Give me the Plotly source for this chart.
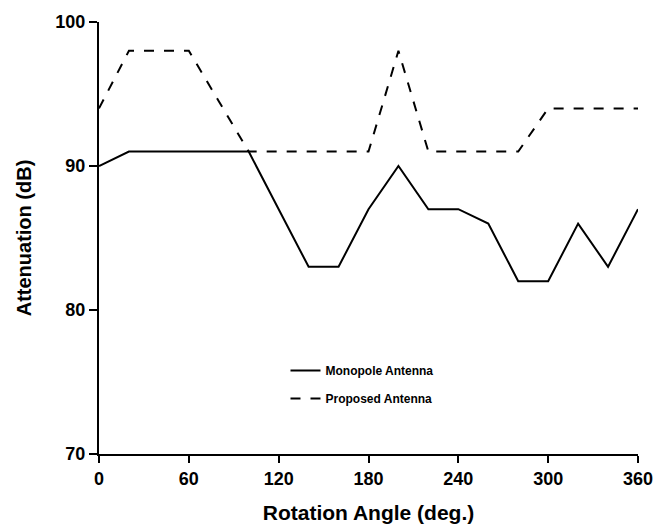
import plotly.graph_objects as go

angles = [0, 20, 40, 60, 80, 100, 120, 140, 160, 180, 200, 220, 240, 260, 280, 300, 320, 340, 360]
monopole = [90, 91, 91, 91, 91, 91, 87, 83, 83, 87, 90, 87, 87, 86, 82, 82, 86, 83, 87]
proposed = [94, 98, 98, 98, 94.5, 91, 91, 91, 91, 91, 98, 91, 91, 91, 91, 94, 94, 94, 94]

x_ticks = [0, 60, 120, 180, 240, 300, 360]
y_ticks = [70, 80, 90, 100]

FONT = "Liberation Sans, Arial, sans-serif"

fig = go.Figure()
fig.add_trace(go.Scatter(x=angles, y=monopole, mode="lines", name="Monopole Antenna",
                         legendgroup="a",
                         line=dict(color="black", width=2)))
fig.add_trace(go.Scatter(x=angles, y=proposed, mode="lines", name="Proposed Antenna",
                         legendgroup="b",
                         line=dict(color="black", width=2, dash="10px,10px")))

fig.update_layout(
    width=656, height=525,
    margin=dict(l=99, r=18, t=22, b=71, autoexpand=False),
    paper_bgcolor="white", plot_bgcolor="white",
    font=dict(family=FONT, color="black"),
    showlegend=True,
    legend=dict(x=0.346, y=0.227, xanchor="left", yanchor="top",
                bgcolor="rgba(0,0,0,0)", traceorder="grouped", tracegroupgap=9,
                font=dict(size=12, family=FONT, weight="bold"), itemwidth=30),
    xaxis=dict(range=[0, 360], tickvals=x_ticks, ticktext=[str(v) for v in x_ticks],
               automargin=False,
               showgrid=False, zeroline=False, showline=True, linecolor="black", linewidth=2,
               ticks="outside", ticklen=7, tickwidth=2, tickcolor="black",
               tickfont=dict(size=18, family=FONT, weight="bold"),
               title=dict(text="Rotation Angle (deg.)", standoff=18,
                          font=dict(size=21, family=FONT, weight="bold"))),
    yaxis=dict(range=[70, 100], tickvals=y_ticks, ticktext=[str(v) for v in y_ticks],
               automargin=False,
               showgrid=False, zeroline=False, showline=True, linecolor="black", linewidth=2,
               ticks="outside", ticklen=8, tickwidth=2, tickcolor="black",
               tickfont=dict(size=18, family=FONT, weight="bold"),
               title=dict(text="Attenuation (dB)", standoff=18,
                          font=dict(size=20, family=FONT, weight="bold"))),
)

fig.write_html("out.html", config={"displayModeBar": False},
               post_script="document.body.style.margin='0';")
